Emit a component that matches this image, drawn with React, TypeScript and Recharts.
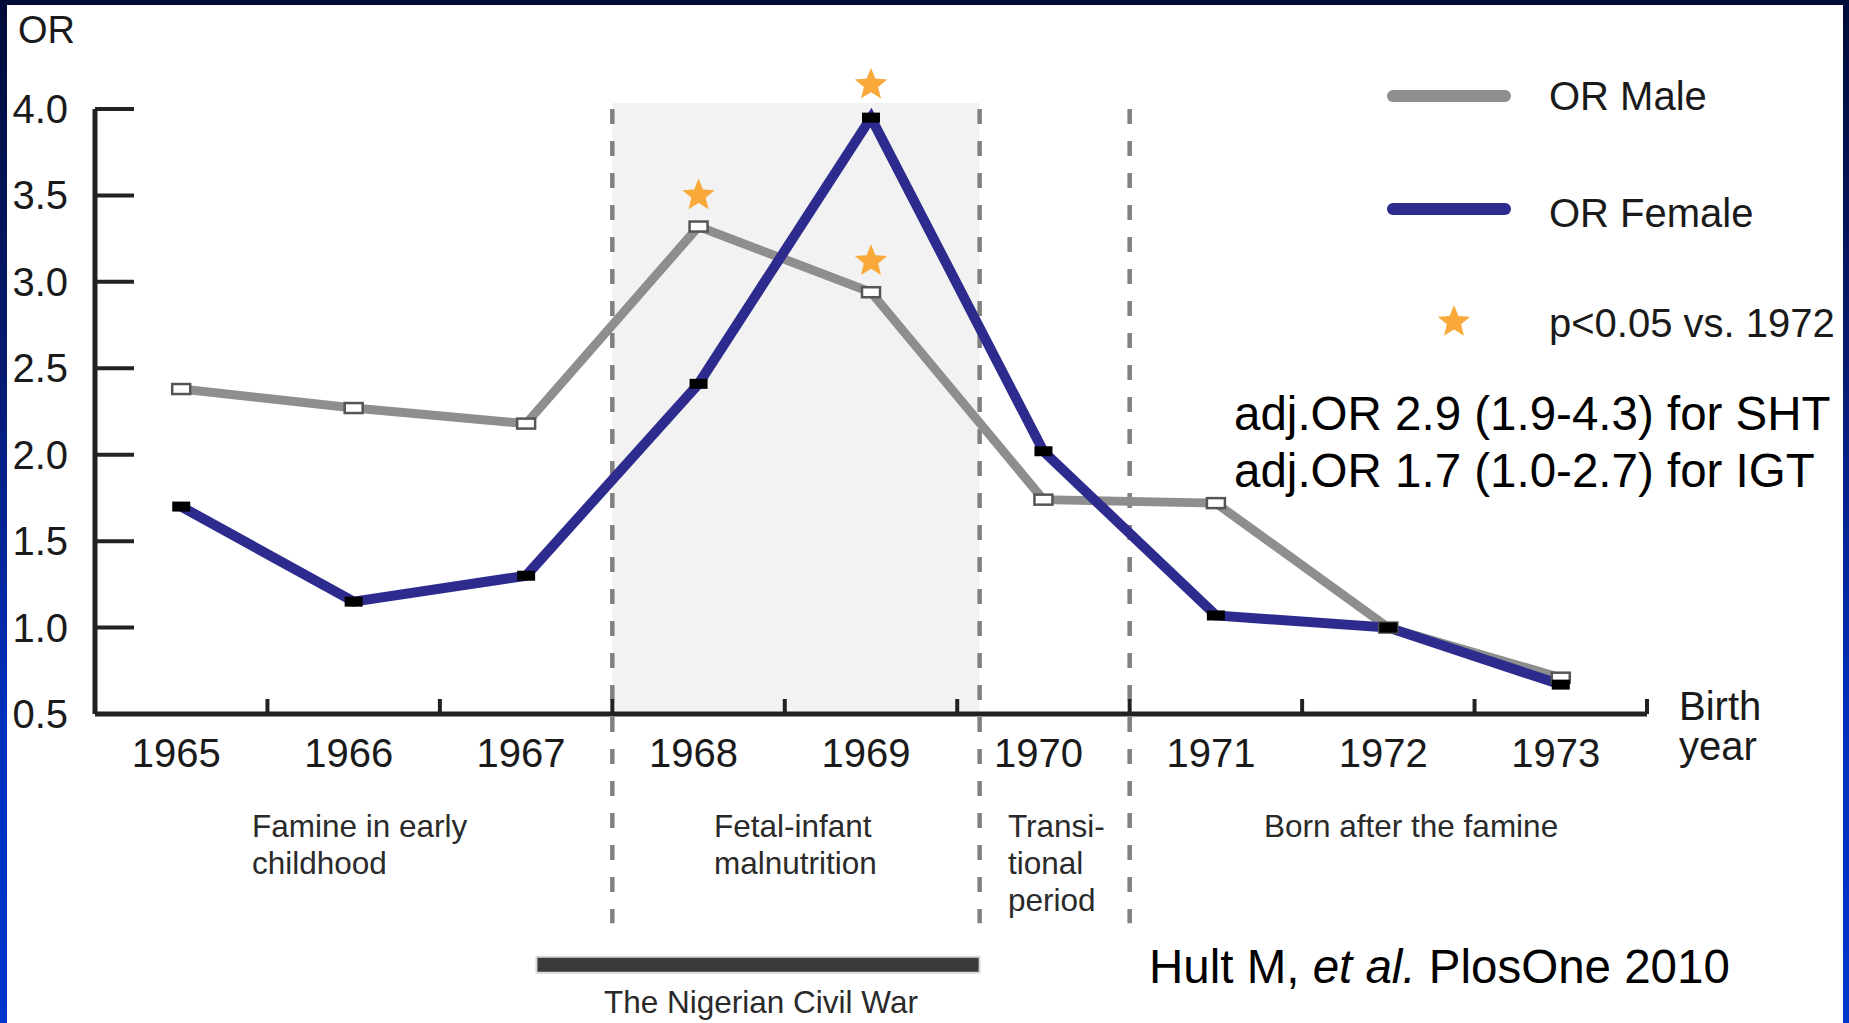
import React from "react";
import { LineChart, Line, XAxis, YAxis, ReferenceArea, ReferenceLine } from "recharts";

// ---- data ----
const years = [1965, 1966, 1967, 1968, 1969, 1970, 1971, 1972, 1973];
const orMale = [2.38, 2.27, 2.18, 3.32, 2.94, 1.74, 1.72, 1.0, 0.71];
const orFemale = [1.7, 1.15, 1.3, 2.41, 3.95, 2.02, 1.07, 1.0, 0.67];
const maleSignificant = [false, false, false, true, true, false, false, false, false];
const femaleSignificant = [false, false, false, false, true, false, false, false, false];
const yTicks = [0.5, 1.0, 1.5, 2.0, 2.5, 3.0, 3.5, 4.0];
const boundaryTicks = [1965.5, 1966.5, 1967.5, 1968.5, 1969.5, 1970.5, 1971.5, 1972.5, 1973.5];
const periodSeparators = [1967.5, 1969.63, 1970.5];
const fetalPeriod = [1967.5, 1969.63];
const civilWar = [1967.06, 1969.63];

const data = years.map((year, i) => ({
  year,
  male: orMale[i],
  female: orFemale[i],
  maleSig: maleSignificant[i],
  femaleSig: femaleSignificant[i],
}));
const xTicks = [...years, ...boundaryTicks].sort((a, b) => a - b);

const FONT = '"Liberation Sans", Arial, Helvetica, sans-serif';
const MALE = "#8e8e8e";
const FEMALE = "#2d2c8e";
const STAR = "#f8a93a";
const AXIS = "#222222";
const Y_TICK_MARGIN = 25;

function starPath(cx: number, cy: number, R: number, r: number) {
  let d = "";
  for (let i = 0; i < 10; i++) {
    const a = -Math.PI / 2 + (i * Math.PI) / 5;
    const rad = i % 2 === 0 ? R : r;
    d += (i === 0 ? "M" : "L") + (cx + rad * Math.cos(a)).toFixed(2) + "," + (cy + rad * Math.sin(a)).toFixed(2);
  }
  return d + "Z";
}

const MaleDot = (props: any) => {
  const { cx, cy, payload, index } = props;
  return (
    <g key={"m" + index}>
      <rect x={cx - 9} y={cy - 5} width={18} height={10} fill="#ffffff" stroke="#555555" strokeWidth={2.5} />
      {payload.maleSig && <path d={starPath(cx, cy - 31, 17, 7.5)} fill={STAR} />}
    </g>
  );
};

const FemaleDot = (props: any) => {
  const { cx, cy, payload, index } = props;
  return (
    <g key={"f" + index}>
      <rect x={cx - 9} y={cy - 5} width={18} height={10} fill="#000000" />
      {payload.femaleSig && <path d={starPath(cx, cy - 33, 17, 7.5)} fill={STAR} />}
    </g>
  );
};

const XTick = (props: any) => {
  const { x, y, payload } = props;
  const v = payload.value;
  if (Number.isInteger(v)) {
    return (
      <text x={x - 5} y={y + 53} textAnchor="middle" fontSize={40} fontFamily={FONT} fill="#1a1a1a">
        {v}
      </text>
    );
  }
  return (
    <g>
      <line x1={x} x2={x} y1={y} y2={y - 15} stroke={AXIS} strokeWidth={4} />
      {v === 1973.5 && (
        <text x={x + 32} y={y + 6} fontSize={40} fontFamily={FONT} fill="#1a1a1a">
          <tspan x={x + 32} dy={0}>Birth</tspan>
          <tspan x={x + 32} dy={40}>year</tspan>
        </text>
      )}
    </g>
  );
};

const YTick = (props: any) => {
  const { x, y, payload } = props;
  const axisX = x + Y_TICK_MARGIN;
  return (
    <g>
      <text x={x - 2} y={y + 14} textAnchor="end" fontSize={40} fontFamily={FONT} fill="#1a1a1a">
        {Number(payload.value).toFixed(1)}
      </text>
      <line x1={axisX} x2={axisX + 39} y1={y} y2={y} stroke={AXIS} strokeWidth={4} />
    </g>
  );
};

const Overlay = () => {
  const t = { fontFamily: FONT } as const;
  return (
    <svg width={1849} height={1023} style={{ position: "absolute", left: 0, top: 0, pointerEvents: "none" }}>
      <text x={18} y={43} fontSize={38} fill="#1a1a1a" {...t}>OR</text>
      {/* legend */}
      <line x1={1393} x2={1505} y1={96} y2={96} stroke={MALE} strokeWidth={12} strokeLinecap="round" />
      <text x={1549} y={110} fontSize={40} fill="#1a1a1a" {...t}>OR Male</text>
      <line x1={1393} x2={1505} y1={209} y2={209} stroke={FEMALE} strokeWidth={12} strokeLinecap="round" />
      <text x={1549} y={227} fontSize={40} fill="#1a1a1a" {...t}>OR Female</text>
      <path d={starPath(1454, 322, 17, 7.5)} fill={STAR} />
      <text x={1549} y={337} fontSize={40} fill="#1a1a1a" {...t}>p&lt;0.05 vs. 1972</text>
      <text x={1234} y={430} fontSize={47.5} fill="#000000" {...t}>adj.OR 2.9 (1.9-4.3) for SHT</text>
      <text x={1234} y={487} fontSize={47.5} fill="#000000" {...t}>adj.OR 1.7 (1.0-2.7) for IGT</text>
      {/* period labels */}
      <text x={252} y={837} fontSize={31.5} fill="#2a2a2a" {...t}>
        <tspan x={252}>Famine in early</tspan>
        <tspan x={252} dy={37}>childhood</tspan>
      </text>
      <text x={714} y={837} fontSize={31.5} fill="#2a2a2a" {...t}>
        <tspan x={714}>Fetal-infant</tspan>
        <tspan x={714} dy={37}>malnutrition</tspan>
      </text>
      <text x={1008} y={837} fontSize={31.5} fill="#2a2a2a" {...t}>
        <tspan x={1008}>Transi-</tspan>
        <tspan x={1008} dy={37}>tional</tspan>
        <tspan x={1008} dy={37}>period</tspan>
      </text>
      <text x={1264} y={837} fontSize={31.5} fill="#2a2a2a" {...t}>Born after the famine</text>
      <text x={761} y={1013} fontSize={31.5} textAnchor="middle" fill="#2a2a2a" {...t}>The Nigerian Civil War</text>
      <text x={1149} y={983} fontSize={47.5} fill="#000000" {...t}>
        Hult M, <tspan fontStyle="italic">et al.</tspan> PlosOne 2010
      </text>
    </svg>
  );
};

export default function App() {
  return (
    <div
      style={{
        position: "absolute",
        left: 0,
        top: 0,
        width: 1849,
        height: 1023,
        overflow: "hidden",
        background: "linear-gradient(180deg, #000b38 0%, #071a70 35%, #0030bd 70%, #0036cc 100%)",
      }}
    >
      <div style={{ position: "absolute", left: 7, top: 5, width: 1836, height: 1018, background: "#ffffff" }} />
      <div style={{ position: "absolute", left: 0, top: 0 }}>
        <LineChart width={1849} height={1023} data={data} margin={{ top: 109, right: 202, bottom: 249, left: 15 }}>
          <ReferenceArea
            x1={fetalPeriod[0]}
            x2={fetalPeriod[1]}
            y1={0.5}
            y2={4.035}
            fill="#f2f2f2"
            fillOpacity={1}
            stroke="none"
            ifOverflow="visible"
          />
          <ReferenceArea
            x1={civilWar[0]}
            x2={civilWar[1]}
            y1={-0.997}
            y2={-0.905}
            fill="#3a3a3c"
            fillOpacity={1}
            stroke="#d9d9d9"
            strokeWidth={2}
            ifOverflow="visible"
          />
          {periodSeparators.map((sx) => (
            <ReferenceLine
              key={sx}
              segment={[
                { x: sx, y: 4.0 },
                { x: sx, y: -0.71 },
              ]}
              stroke="#808080"
              strokeWidth={4.5}
              strokeDasharray="15 17"
              ifOverflow="visible"
            />
          ))}
          <XAxis
            dataKey="year"
            type="number"
            domain={[1964.5, 1973.5]}
            ticks={xTicks}
            interval={0}
            tick={<XTick />}
            tickLine={false}
            tickSize={0}
            tickMargin={0}
            height={60}
            axisLine={{ stroke: AXIS, strokeWidth: 5 }}
          />
          <YAxis
            type="number"
            domain={[0.5, 4]}
            ticks={yTicks}
            interval={0}
            tick={<YTick />}
            tickLine={false}
            tickSize={0}
            tickMargin={Y_TICK_MARGIN}
            width={80}
            axisLine={{ stroke: AXIS, strokeWidth: 5 }}
          />
          <Line
            type="linear"
            dataKey="male"
            stroke={MALE}
            strokeWidth={9}
            dot={<MaleDot />}
            activeDot={false}
            isAnimationActive={false}
          />
          <Line
            type="linear"
            dataKey="female"
            stroke={FEMALE}
            strokeWidth={10}
            dot={<FemaleDot />}
            activeDot={false}
            isAnimationActive={false}
          />
        </LineChart>
      </div>
      <Overlay />
    </div>
  );
}
